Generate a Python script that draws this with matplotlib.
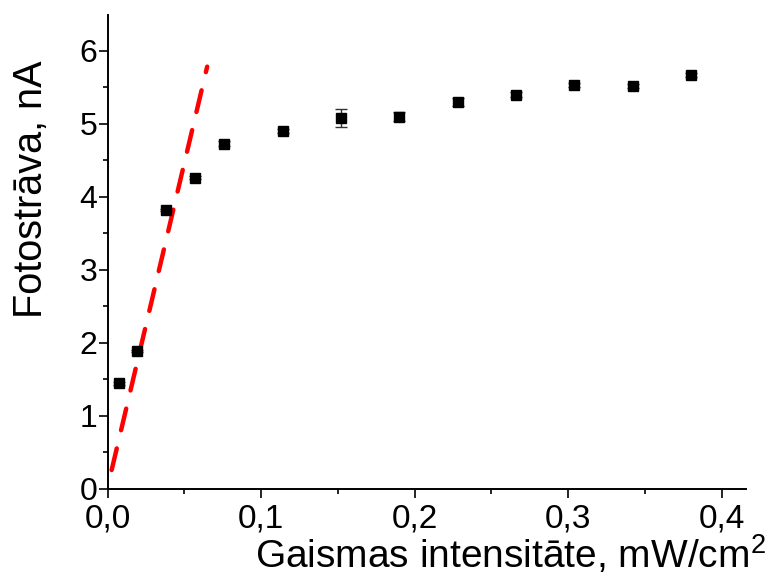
import matplotlib
matplotlib.use("Agg")
import matplotlib.pyplot as plt
import numpy as np
from matplotlib.ticker import MultipleLocator, FuncFormatter

# Measured photocurrent vs. light intensity
intensity = [0.0076, 0.019, 0.038, 0.057, 0.076, 0.114, 0.152, 0.190,
             0.228, 0.266, 0.304, 0.342, 0.380]
current = [1.45, 1.89, 3.82, 4.26, 4.73, 4.90, 5.08, 5.10,
           5.30, 5.40, 5.53, 5.52, 5.67]
current_err = [0.02, 0.02, 0.02, 0.02, 0.03, 0.03, 0.12, 0.06,
               0.05, 0.03, 0.03, 0.03, 0.03]

# Linear fit of the low-intensity region
fit_slope = 88.8
fit_intercept = 0.02
fit_x_range = [0.0027, 0.0649]

plt.rcParams["mathtext.fontset"] = "custom"
plt.rcParams["mathtext.rm"] = "Liberation Sans"

fig = plt.figure(figsize=(7.78, 5.82), dpi=100)
ax = fig.add_axes([107.5 / 778, 93 / 582, (746 - 107.5) / 778, (489 - 15) / 582])

fx = np.array(fit_x_range)
ax.plot(fx, fit_slope * fx + fit_intercept, color="#ff0000", lw=3.2,
        dashes=(5.0, 4.2), solid_capstyle="round", dash_capstyle="round", zorder=2)

ax.errorbar(intensity, current, yerr=current_err, fmt="s", color="black",
            ms=7, ecolor="#333333", elinewidth=1.0, capsize=4, capthick=1.0, zorder=3)

ax.set_xlim(0, 0.4157)
ax.set_ylim(0, 6.49)

for side in ("top", "right"):
    ax.spines[side].set_visible(False)
for side in ("left", "bottom"):
    ax.spines[side].set_linewidth(1.4)

ax.xaxis.set_major_locator(MultipleLocator(0.1))
ax.xaxis.set_minor_locator(MultipleLocator(0.05))
ax.yaxis.set_major_locator(MultipleLocator(1))
ax.yaxis.set_minor_locator(MultipleLocator(0.5))
ax.xaxis.set_major_formatter(FuncFormatter(lambda v, p: f"{v:.1f}".replace(".", ",")))
ax.yaxis.set_major_formatter(FuncFormatter(lambda v, p: f"{v:.0f}"))

ax.tick_params(which="major", direction="out", length=6.5, width=1.2)
ax.tick_params(which="minor", direction="out", length=3.5, width=1.2)
ax.tick_params(axis="y", which="major", labelsize=23, pad=1)
ax.tick_params(axis="x", which="major", labelsize=24, pad=4)
for lbl in ax.get_xticklabels() + ax.get_yticklabels():
    lbl.set_family(["Liberation Sans", "DejaVu Sans"])

ax.set_xlabel("Gaismas intensitāte, mW/cm$^\\mathrm{2}$", fontsize=28,
              family=["Liberation Sans", "DejaVu Sans"], va="baseline")
ax.set_ylabel("Fotostrāva, nA", fontsize=28.5,
              family=["Liberation Sans", "DejaVu Sans"])
ax.xaxis.set_label_coords((510 - 107.5) / (746 - 107.5), -(568 - 489) / (489 - 15))
ax.yaxis.set_label_coords(-(107.5 - 50) / (746 - 107.5), (489 - 189) / (489 - 15))

fig.savefig("out.png", dpi=100)
